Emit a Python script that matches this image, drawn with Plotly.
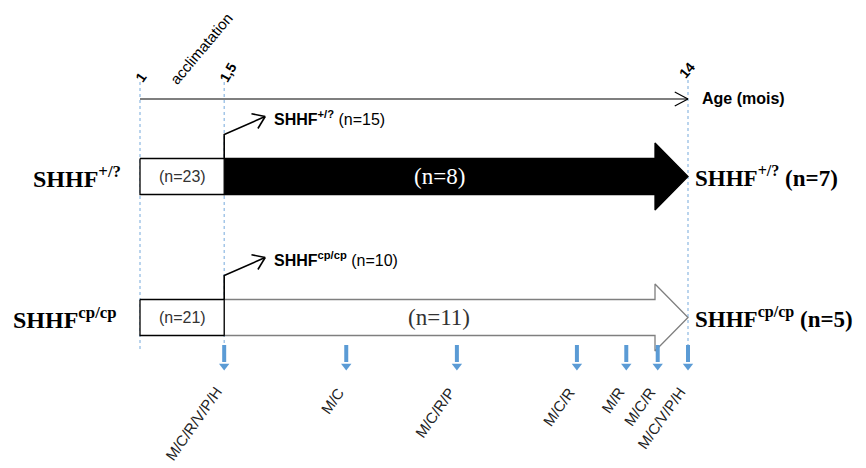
import numpy as np
import plotly.graph_objects as go

# axe des âges (mois) et étiquettes
tick_ages = [1, 1.5, 14]
tick_labels = ["1", "1,5", "14"]

# groupes
groups = ["SHHF<sup>+/?</sup>", "SHHF<sup>cp/cp</sup>"]
n_start = [23, 21]
n_exit = [15, 10]
n_follow = [8, 11]
n_end = [7, 5]

# mesures
measure_ages = [1.5, 2.7, 4.6, 8.2, 10.4, 12.1, 14]
measure_labels = ["M/C/R/V/P/H", "M/C", "M/C/R/P", "M/C/R", "M/R", "M/C/R", "M/C/V/P/H"]

W, H = 866, 468
PAGE = 8                                     # marge du body html
X0_PX, X1_PX = 140, 688                      # pixel de l'âge 1 et 14
PX_DEC = (X1_PX - X0_PX) / np.log10(tick_ages[-1])
x_range = [(PAGE - X0_PX) / PX_DEC, (W - X0_PX) / PX_DEC]

SANS = "Liberation Sans, Arial"
SERIF = "Liberation Serif, Times New Roman"
BLUE = "#5B9BD5"
DASH = "#8DB8E2"


def sh(age, dpx):
    # décale un âge de dpx pixels sur l'axe log
    return age * 10 ** (dpx / PX_DEC)


def lx(age):
    return np.log10(age)


fig = go.Figure()


def line(xs, ys, color="black", width=1.2, dash=None):
    fig.add_trace(go.Scatter(x=xs, y=ys, mode="lines", hoverinfo="skip",
                             line=dict(color=color, width=width, dash=dash)))


def poly(xs, ys, fill, color, width=1.2):
    fig.add_trace(go.Scatter(x=xs + xs[:1], y=ys + ys[:1], mode="lines", fill="toself",
                             fillcolor=fill, hoverinfo="skip",
                             line=dict(color=color, width=width)))


def open_head(tx, ty, ang_deg, L=15, spread=32, width=1.2):
    # pointe ouverte en V, angle en pixels (0 = droite, y vers le bas)
    for s in (-spread, spread):
        a = np.radians(ang_deg + 180 + s)
        line([sh(tx, L * np.cos(a)), tx], [ty + L * np.sin(a), ty], "black", width)


# lignes pointillées verticales
line([tick_ages[0]] * 2, [82, 352], DASH, 1.2, "3px,3px")
line([tick_ages[1]] * 2, [82, 345], DASH, 1.2, "3px,3px")
line([tick_ages[2]] * 2, [80, 345], DASH, 1.2, "3px,3px")

# axe de l'âge
line([tick_ages[0], tick_ages[-1]], [99, 99])
open_head(tick_ages[-1], 99, 0, L=15, spread=28)

ann = []
tick_pos = [(1, 77, -55), (4, 72, -60), (-1, 70, -50)]
for age, lab, (dx, y, a) in zip(tick_ages, tick_labels, tick_pos):
    ann.append(dict(x=lx(sh(age, dx)), y=y, text="<b>" + lab + "</b>", textangle=a, showarrow=False,
                    font=dict(family=SANS, size=14, color="black"), xanchor="center", yanchor="middle"))
ann.append(dict(x=lx(sh(1, 61)), y=48, text="acclimatation", textangle=-50, showarrow=False,
                font=dict(family=SANS, size=15, color="black")))
ann.append(dict(x=lx(sh(tick_ages[-1], 12)), y=98, text="<b>Age (mois)</b>", showarrow=False,
                xanchor="left", font=dict(family=SANS, size=16, color="black")))

# groupes
rows = [176.5, 317.5]
for i, yc in enumerate(rows):
    bh, hh = 18, 33.5
    base = sh(tick_ages[-1], -33)
    if i == 0:
        fill, edge, tcol = "black", "black", "white"
    else:
        fill, edge, tcol = "white", "#7F7F7F", "#333333"
    poly([tick_ages[1], base, base, tick_ages[-1], base, base, tick_ages[1]],
         [yc - bh, yc - bh, yc - hh, yc, yc + hh, yc + bh, yc + bh], fill, edge, 1.3)
    poly([tick_ages[0], tick_ages[1], tick_ages[1], tick_ages[0]],
         [yc - bh, yc - bh, yc + bh, yc + bh], "white", "black", 1.3)

    # sortie du groupe
    bend_y = yc - bh - 24
    tip_x, tip_y = sh(tick_ages[1], 41), bend_y - 18
    line([tick_ages[1], tick_ages[1], tip_x], [yc - bh, bend_y, tip_y], "black", 1.6)
    ang = np.degrees(np.arctan2(tip_y - bend_y, 41))
    open_head(tip_x, tip_y, ang, L=14, spread=35, width=1.6)

    ann.append(dict(x=lx(sh(tick_ages[1], 48)), y=tip_y + 1, xanchor="left", showarrow=False,
                    text="<b>%s</b> (n=%d)" % (groups[i], n_exit[i]),
                    font=dict(family=SANS, size=16, color="black")))
    ann.append(dict(x=lx(sh(tick_ages[0], 42)), y=yc, showarrow=False,
                    text="(n=%d)" % n_start[i], font=dict(family=SANS, size=16, color="#333333")))
    ann.append(dict(x=lx(sh(tick_ages[1], 215)), y=yc, showarrow=False,
                    text="(n=%d)" % n_follow[i], font=dict(family=SERIF, size=23, color=tcol)))
    ann.append(dict(x=lx(sh(tick_ages[0], -17 - 4 * i)), y=yc, xanchor="right", showarrow=False,
                    text="<b>%s</b>" % groups[i], font=dict(family=SERIF, size=24, color="black")))
    ann.append(dict(x=lx(sh(tick_ages[-1], 5)), y=yc, xanchor="left", showarrow=False,
                    text="<b>%s (n=%d)</b>" % (groups[i], n_end[i]),
                    font=dict(family=SERIF, size=23, color="black")))

# flèches des mesures
for age in measure_ages:
    line([age, age], [345, 362], BLUE, 4)
fig.add_trace(go.Scatter(x=measure_ages, y=[366] * len(measure_ages), mode="markers",
                         hoverinfo="skip",
                         marker=dict(symbol="triangle-down", size=9, color=BLUE)))

for age, lab in zip(measure_ages, measure_labels):
    ann.append(dict(x=lx(sh(age, 4)), y=381, text=lab, textangle=-55, showarrow=False,
                    xanchor="right", yanchor="top", font=dict(family=SANS, size=15, color="#222222")))

fig.update_layout(
    width=W - PAGE, height=H - PAGE, margin=dict(l=0, r=0, t=0, b=0),
    plot_bgcolor="white", paper_bgcolor="white", showlegend=False,
    xaxis=dict(type="log", range=x_range, visible=False, fixedrange=True),
    yaxis=dict(range=[H, PAGE], visible=False, fixedrange=True),
    annotations=ann,
)

fig.write_html("out.html")
